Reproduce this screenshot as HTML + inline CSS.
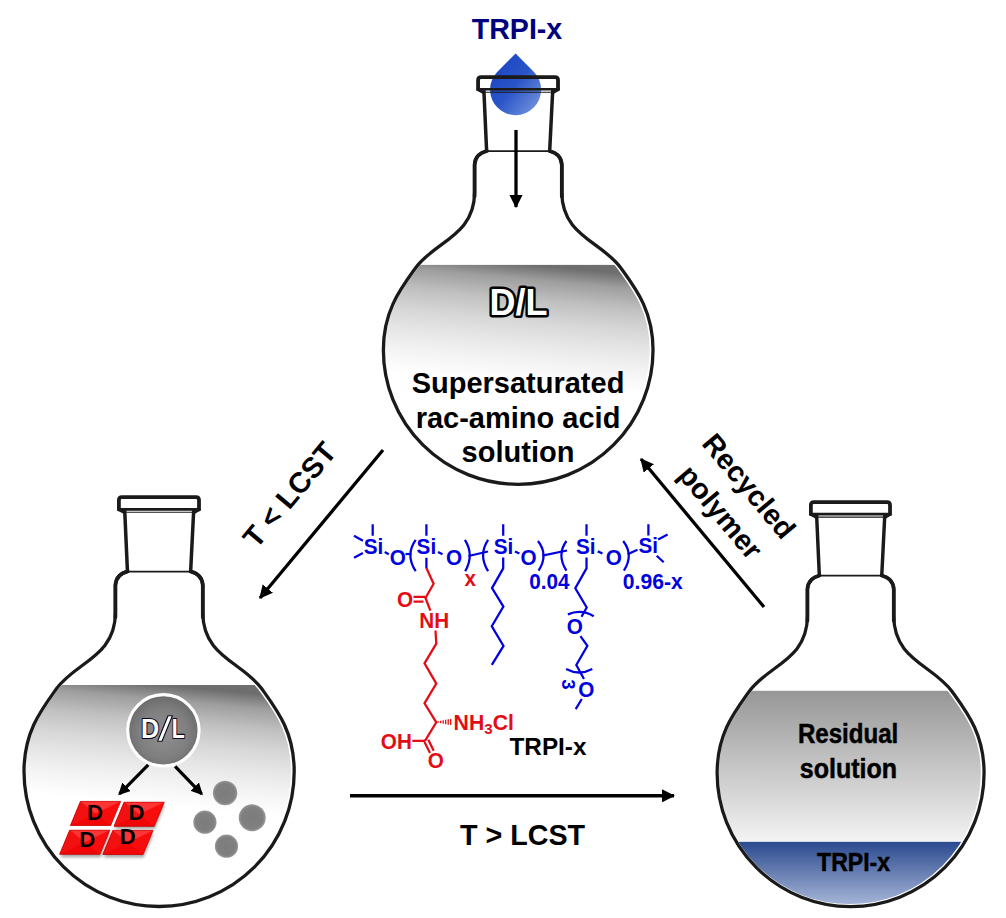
<!DOCTYPE html>
<html><head><meta charset="utf-8">
<style>
html,body{margin:0;padding:0;background:#fff;}
body{width:1006px;height:918px;overflow:hidden;}
svg{display:block;}
text{font-family:"Liberation Sans",sans-serif;font-weight:bold;}
</style></head><body>
<svg width="1006" height="918" viewBox="0 0 1006 918">
<defs>
  <!-- flask in local coords: x=0 axis, y=0 rim top -->
  <path id="body" d="M -31.4,76.2 C -37,77.5 -43.2,81.5 -43.7,90 L -43.7,117.3 C -43.7,161.7 -83.3,166.7 -102.7,193.6 C -118.0,214.9 -135.1,236.8 -135.1,276.2 A 135.1 135.1 0 0 0 0,411.3 A 135.1 135.1 0 0 0 135.1,276.2 C 135.1,236.8 118.0,214.9 102.7,193.6 C 83.3,166.7 43.7,161.7 43.7,117.3 L 43.7,90 C 43.2,81.5 37,77.5 31.4,76.2"/>
  <path id="shoulder" d="M -31.4,76.2 C -37,77.5 -43.2,81.5 -43.7,90 L -43.7,122 M 31.4,76.2 C 37,77.5 43.2,81.5 43.7,90 L 43.7,122"/>
  <clipPath id="fc"><use href="#body"/></clipPath>
  <g id="flask" fill="none" stroke="#1a1a1a" stroke-linecap="round" stroke-linejoin="round">
    <use href="#body" stroke="#fff" stroke-width="5" transform="translate(-0.8,0)"/>
    <use href="#body" stroke-width="3.3"/>
    <use href="#shoulder" stroke-width="3.75"/>
    <path d="M -40.2,14.2 V4.9 Q-40.2,1.9 -37.2,1.9 H36.9 Q39.9,1.9 39.9,4.9 V14.2" stroke-width="3.8"/>
    <path d="M -40.4,14.1 H40.1 M-40.6,14.4 L-35.5,17.2 M40.3,14.4 L35.6,17.2" stroke-width="2.7"/>
    <line x1="-35" y1="17.1" x2="35" y2="17.1" stroke-width="1.1"/>
    <line x1="-34.4" y1="15" x2="-31.7" y2="75" stroke-width="3.5"/>
    <line x1="34.6" y1="15" x2="31.6" y2="75" stroke-width="3.5"/>
    <line x1="-30.7" y1="76.4" x2="31" y2="76.4" stroke-width="1.7"/>
  </g>
  <linearGradient id="gray1" gradientUnits="userSpaceOnUse" x1="0" y1="189.7" x2="-11" y2="309.2">
    <stop offset="0" stop-color="#6e6e6e"/><stop offset="0.12" stop-color="#9e9e9e"/><stop offset="0.29" stop-color="#c0c0c0"/><stop offset="0.46" stop-color="#d6d6d6"/><stop offset="0.63" stop-color="#e6e6e6"/><stop offset="0.8" stop-color="#f3f3f3"/><stop offset="1" stop-color="#fff"/>
  </linearGradient>
  <linearGradient id="gray3" x1="0" y1="0" x2="0" y2="1">
    <stop offset="0" stop-color="#979797"/><stop offset="1" stop-color="#f4f4f4"/>
  </linearGradient>
  <linearGradient id="blue3" x1="0" y1="0" x2="0" y2="1">
    <stop offset="0" stop-color="#2b4a8e"/><stop offset="1" stop-color="#c5d1ea"/>
  </linearGradient>
  <linearGradient id="drop" x1="0" y1="0" x2="1" y2="1">
    <stop offset="0" stop-color="#1540c0"/><stop offset="0.5" stop-color="#2a55c8"/><stop offset="1" stop-color="#7f9ee0"/>
  </linearGradient>
  <marker id="ah" viewBox="0 0 12 12" refX="11" refY="6" markerWidth="13.4" markerHeight="13.4" markerUnits="userSpaceOnUse" orient="auto"><path d="M0,0 L12,6 L0,12 Z" fill="#000"/></marker>
</defs>

<!-- TOP FLASK -->
<path d="M515.6,53.4 L534,72 A25.5 25.5 0 1 1 497.2,72 Z" fill="url(#drop)"/>
<g transform="translate(518.2,75.2) scale(0.998,0.9947)">
  <rect x="-140" y="190.7" width="280" height="225" fill="url(#gray1)" clip-path="url(#fc)"/>
  <use href="#flask"/>
</g>
<!-- LEFT FLASK -->
<g transform="translate(159.1,495.2)">
  <rect x="-140" y="189.8" width="280" height="225" fill="url(#gray1)" clip-path="url(#fc)"/>
  <use href="#flask"/>
</g>
<!-- RIGHT FLASK -->
<g transform="translate(850.6,500.2) scale(0.988)">
  <g clip-path="url(#fc)">
  <rect x="-140" y="192.9" width="280" height="154" fill="url(#gray3)"/>
  <rect x="-140" y="345.8" width="280" height="80" fill="url(#blue3)"/>
  </g>
  <use href="#flask"/>
</g>

<!-- LEFT FLASK CONTENTS -->
<defs>
 <radialGradient id="bigc" cx="0.5" cy="0.55" r="0.55"><stop offset="0" stop-color="#8e8e8e"/><stop offset="0.6" stop-color="#808080"/><stop offset="1" stop-color="#6a6a6a"/></radialGradient>
 <radialGradient id="smc" cx="0.5" cy="0.5" r="0.5"><stop offset="0" stop-color="#7c7c7c"/><stop offset="0.8" stop-color="#808080"/><stop offset="1" stop-color="#9a9a9a"/></radialGradient>
 <marker id="ah2" viewBox="0 0 12 12" refX="10" refY="6" markerWidth="12" markerHeight="12" markerUnits="userSpaceOnUse" orient="auto"><path d="M0,0 L12,6 L0,12 Z" fill="#000"/></marker>
 <filter id="sh" x="-20%" y="-20%" width="140%" height="160%"><feGaussianBlur stdDeviation="1.6"/></filter>
 <g id="para">
  <path d="M10,0 H50.3 L40.3,24.1 H0 Z" fill="#f80d0d"/>
  <path d="M10,0 H50.3 L25,12 Z" fill="#ff3434"/>
  <path d="M40.3,24.1 H0 L25,12 Z" fill="#f00606"/>
  <path d="M10,0 L25,12 L0,24.1 Z" fill="#f21010"/>
  <path d="M10,0 H50.3 L40.3,24.1 H0 Z" stroke="#c40000" stroke-width="0.7" fill="none"/>
 </g>
 <path id="parash" d="M10,0 H50.3 L40.3,24.1 H0 Z"/>
</defs>
<circle cx="163.4" cy="730.3" r="35.7" fill="url(#bigc)" stroke="#fff" stroke-width="3.1"/>
<g font-size="28" fill="#fff" stroke="#0a0a1e" stroke-width="2.2" stroke-linejoin="round" paint-order="stroke">
 <text transform="translate(140.9,738.2) scale(0.9,1)">D</text><text transform="translate(171.8,738.2) scale(0.76,1)">L</text>
 <path d="M168,715.8H172.4L162,741.3H157.6Z" stroke-width="1.1" paint-order="normal"/>
</g>
<line x1="148.2" y1="764.9" x2="119.6" y2="793.8" stroke="#000" stroke-width="3.2" marker-end="url(#ah2)"/>
<line x1="175.1" y1="766.4" x2="201.6" y2="793.8" stroke="#000" stroke-width="3.2" marker-end="url(#ah2)"/>
<g>
 <g fill="#000" opacity="0.35" filter="url(#sh)">
  <use href="#parash" x="60.4" y="833.2"/><use href="#parash" x="103.5" y="833.4"/>
  <use href="#parash" x="114.6" y="805"/>
 </g>
 <use href="#para" x="70.4" y="801.4"/>
 <use href="#para" x="114" y="802.2"/>
 <use href="#para" x="59.6" y="830.2"/>
 <use href="#para" x="102.8" y="830.4"/>
 <g font-size="22" fill="#000" text-anchor="middle">
  <text x="94.9" y="819.9">D</text><text x="136.4" y="819.9">D</text>
  <text x="87.2" y="847.2">D</text><text x="127.7" y="844.3">D</text>
 </g>
</g>
<g fill="url(#smc)">
 <circle cx="225.1" cy="793" r="12.2"/><circle cx="204.9" cy="822.2" r="11.6"/>
 <circle cx="252.2" cy="817.8" r="13.5"/><circle cx="226.5" cy="846.2" r="11.6"/>
</g>

<!-- RIGHT FLASK TEXT -->
<g fill="#000" stroke="#000" stroke-width="0.5">
 <text x="797.9" y="743" font-size="27" textLength="100.4" lengthAdjust="spacingAndGlyphs">Residual</text>
 <text x="799.8" y="778" font-size="27" textLength="97.3" lengthAdjust="spacingAndGlyphs">solution</text>
 <text x="817.1" y="870.8" font-size="26" textLength="73" lengthAdjust="spacingAndGlyphs">TRPI-x</text>
</g>

<!-- drop -->
<text x="517" y="38.8" font-size="28.6" fill="#00007f" text-anchor="middle">TRPI-x</text>
<line x1="516" y1="130" x2="516" y2="207" stroke="#000" stroke-width="3.3" marker-end="url(#ah)"/>

<!-- labels top flask -->
<text x="518.5" y="315" font-size="36" text-anchor="middle" fill="#fff" stroke="#000" stroke-width="5" stroke-linejoin="round" paint-order="stroke">D/L</text>
<g font-size="29" text-anchor="middle" fill="#000">
<text x="518" y="393">Supersaturated</text>
<text x="518" y="428">rac-amino acid</text>
<text x="518" y="462">solution</text>
</g>


<!-- CHEMICAL STRUCTURE -->
<g id="chem" font-size="21.8" stroke-linecap="butt" fill="none">
 <g stroke="#0000e0" stroke-width="2.25">
  <path d="M372.7,524.3V535.8 M354,535.8L362.9,540.8 M354,557.8L362.9,553 M384.7,551.9L388.8,554.2"/>
  <path d="M405.5,554H411.5"/>
  <path d="M415.7,539.9Q405,555 415.7,571.2"/>
  <path d="M426.4,524.3V535.8 M426.4,557.8V568.5 M438,551.9L442.5,554.2"/>
  <path d="M464.9,539.9Q474.5,555 465.2,571.2"/>
  <path d="M468.5,556L488,551.5"/>
  <path d="M488.1,539.9Q478,555 488.1,571.2"/>
  <path d="M503.2,524.3V535.8 M503.2,557.6V568.4L492,588.1L503.4,606.6L491.8,626.3L503.5,645.9L491.8,664.8 M515,551.4L519.4,553.5"/>
  <path d="M538,541Q548.8,555 538.6,570.6"/>
  <path d="M542.3,555.7L567,550.5"/>
  <path d="M566.4,541Q556.4,555 566.4,570.6"/>
  <path d="M586.5,524.3V535.8 M586.5,557.5V568.4L575.3,588.2L586.7,607.5L581.5,616.7 M597.7,551.4L602.5,553.5"/>
  <path d="M567.9,614.4Q581,608.6 593.7,616.2"/>
  <path d="M580.4,636.2L587.4,645.8L576.3,665L584,679"/>
  <path d="M566.1,669Q579.2,676 592.3,669"/>
  <path d="M581.8,699L575.7,709.1"/>
  <path d="M623.2,541Q634,555 623.9,570.6"/>
  <path d="M627.6,554.2L637.5,549.8"/>
  <path d="M648.4,524.2V535.6 M658.2,539.6L667.6,534.5 M656.7,555.7L663.7,562.3"/>
 </g>
 <g fill="#0000e0" stroke="none">
  <text transform="translate(363.8,554.2) scale(0.95,1)">Si</text>
  <text transform="translate(389.7,565.0) scale(0.95,1)">O</text>
  <text transform="translate(416.6,554.2) scale(0.95,1)">Si</text>
  <text transform="translate(446.1,565.0) scale(0.95,1)">O</text>
  <text transform="translate(493.8,553.8) scale(0.95,1)">Si</text>
  <text transform="translate(520.5,565.0) scale(0.95,1)">O</text>
  <text transform="translate(575.9,553.8) scale(0.95,1)">Si</text>
  <text transform="translate(605.7,565.0) scale(0.95,1)">O</text>
  <text transform="translate(638.5,552.7) scale(0.95,1)">Si</text>
  <text transform="translate(529.2,589.2) scale(0.95,1)">0.04</text>
  <text transform="translate(622.8,589.2) scale(0.97,1)">0.96-x</text>
  <text transform="translate(566.8,634.0) scale(0.95,1)">O</text>
  <text transform="translate(578.3,697.3) scale(0.95,1)">O</text>
  <text transform="translate(561.5,679.2) rotate(90)" x="0" y="0" font-size="18.5">3</text>
 </g>
 <g stroke="#e30d17" stroke-width="2.25">
  <path d="M426.4,568L433.6,583.7L425.5,598L430.4,610.6"/>
  <path d="M425.5,596.8H413.5 M423.5,601.6H413.5"/>
  <path d="M435.5,630.5L436.3,643.6L424.5,663.3L436.3,683.6L424.5,703.3L436.3,722.3L425,740.9"/>
  <path d="M438.2,721.3V722.7 M440.7,720.8V723.2 M443.2,720.3V723.7 M445.7,719.8V724.2 M448.2,719.3V724.7 M450.7,718.9V725.1" stroke-width="1.3"/>
  <path d="M412.3,740.9H425 M424.5,742L430,752.9 M428.3,739.8L433.7,750.7"/>
 </g>
 <g fill="#e30d17" stroke="none">
  <text transform="translate(397.0,606.5) scale(0.95,1)">O</text>
  <text transform="translate(419.2,628.0) scale(0.95,1)">NH</text>
  <text transform="translate(453.6,730.0) scale(0.975,1)">NH<tspan font-size="15.5" dy="4">3</tspan><tspan dy="-4">Cl</tspan></text>
  <text transform="translate(380.8,749.2) scale(0.95,1)">OH</text>
  <text transform="translate(427.8,767.6) scale(0.95,1)">O</text>
  <text transform="translate(464.5,586.4) scale(0.95,1)">x</text>
 </g>
 <text x="509.5" y="755" font-size="24.3" fill="#000">TRPI-x</text>
</g>

<!-- arrows -->
<line x1="383" y1="450" x2="260" y2="598" stroke="#000" stroke-width="3.3" marker-end="url(#ah)"/>
<line x1="764" y1="607" x2="641" y2="459" stroke="#000" stroke-width="3.3" marker-end="url(#ah)"/>
<line x1="350" y1="795.8" x2="674" y2="795.8" stroke="#000" stroke-width="3.5" marker-end="url(#ah)"/>
<text x="522.5" y="845" font-size="28.7" text-anchor="middle" fill="#000">T &gt; LCST</text>
<text transform="translate(289.9,495.1) rotate(-50)" x="0" y="9.5" font-size="29" text-anchor="middle" fill="#000">T &lt; LCST</text>
<text transform="translate(748.5,486.5) rotate(50)" x="0" y="9.3" font-size="28.8" text-anchor="middle" fill="#000">Recycled</text>
<text transform="translate(720.2,512.4) rotate(50)" x="0" y="9.3" font-size="28.8" text-anchor="middle" fill="#000">polymer</text>

</svg>
</body></html>
